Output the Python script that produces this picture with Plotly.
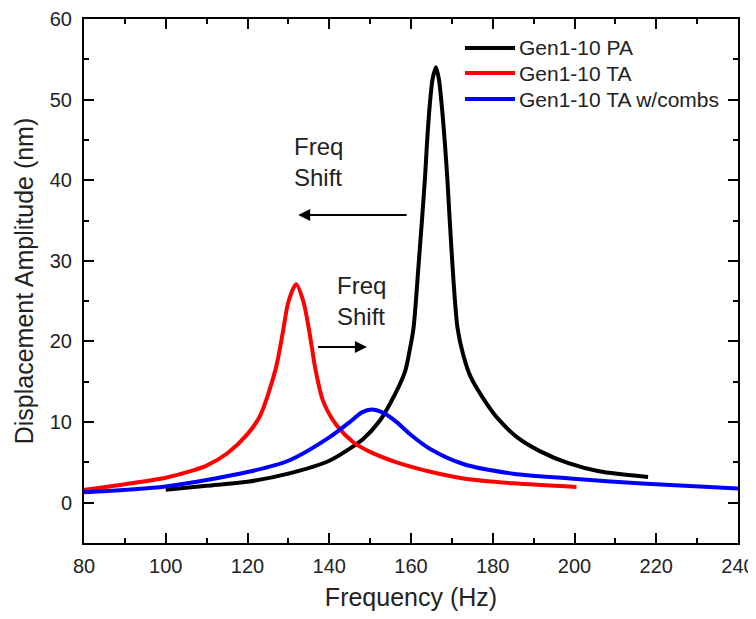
import plotly.graph_objects as go

# Frequency response data
pa_freq = [100, 110, 120, 130, 140, 145, 148.3, 152.4, 154.9, 158.5, 159.6, 160.6, 161.9, 163.4,
           163.9, 164.6, 165.3, 166.1, 166.8, 167.5, 168.3, 168.9, 170.1, 171.4, 172.8, 174.6,
           178.5, 181.5, 186, 191.5, 198.5, 206, 218]
pa_amp = [1.6, 2.1, 2.6, 3.6, 5.2, 6.7, 7.9, 10.2, 12.3, 16.2, 18.7, 21.6, 29.8, 40.1,
          44.5, 49.4, 52.6, 54.0, 52.6, 49.4, 44.5, 40.1, 29.8, 21.6, 18.3, 15.6,
          12.3, 10.3, 8.1, 6.4, 4.9, 3.9, 3.2]

ta_freq = [80, 90, 100, 106.7, 110, 115, 120, 123.1, 126.9, 128.6, 130, 131.9, 133.7, 135.3,
           136.6, 138.5, 141.8, 145.9, 150, 156.5, 165, 172.8, 185, 200.5]
ta_amp = [1.6, 2.3, 3.1, 4.0, 4.6, 6.1, 8.5, 10.8, 16.6, 21.0, 24.9, 27.1, 24.9, 20.7,
          16.6, 12.6, 9.6, 7.5, 6.3, 5.0, 3.8, 3.0, 2.4, 1.95]

comb_freq = [80, 100, 120, 130, 140, 145, 148, 150.4, 153, 156.5, 160, 164.6, 172.8,
             185, 198.9, 217.6, 240]
comb_amp = [1.3, 2.0, 3.8, 5.2, 8.1, 10.0, 11.2, 11.55, 11.2, 10.0, 8.4, 6.7, 4.8,
            3.6, 3.0, 2.35, 1.75]

series_names = ["Gen1-10 PA", "Gen1-10 TA", "Gen1-10 TA w/combs"]
series_colors = ["black", "#ff0000", "#0000ff"]

FONT = "Arial, Liberation Sans, sans-serif"

fig = go.Figure()
for xs, ys, name, color in zip([pa_freq, ta_freq, comb_freq], [pa_amp, ta_amp, comb_amp],
                               series_names, series_colors):
    fig.add_trace(go.Scatter(x=xs, y=ys, mode="lines", name=name, showlegend=False,
                             line=dict(color=color, width=4, shape="spline", smoothing=0.8)))

# legend drawn by hand so the swatches are long and rows tight like the original
legend_rows = [0.9447, 0.8969, 0.8473]
for name, color, ly in zip(series_names, series_colors, legend_rows):
    fig.add_shape(type="line", xref="paper", yref="paper", x0=0.5826, x1=0.659, y0=ly, y1=ly,
                  line=dict(color=color, width=4))
    fig.add_annotation(xref="paper", yref="paper", x=0.662, y=ly, text=name, showarrow=False,
                       xanchor="left", yanchor="middle", font=dict(size=21, color="#222"))

# Freq shift labels and arrows
fig.add_annotation(x=130.9, y=42.3, text="Freq<br>Shift", showarrow=False, xanchor="left",
                   align="left", font=dict(size=24, color="#222"))
fig.add_annotation(x=141.4, y=25.0, text="Freq<br>Shift", showarrow=False, xanchor="left",
                   align="left", font=dict(size=24, color="#222"))
fig.add_annotation(x=132.4, y=35.7, ax=159.3, ay=35.7, xref="x", yref="y", axref="x", ayref="y",
                   text="", showarrow=True, arrowhead=2, arrowsize=1.2, arrowwidth=2,
                   arrowcolor="black")
fig.add_annotation(x=149.2, y=19.3, ax=136.9, ay=19.3, xref="x", yref="y", axref="x", ayref="y",
                   text="", showarrow=True, arrowhead=2, arrowsize=1.2, arrowwidth=2,
                   arrowcolor="black")

axis_style = dict(showline=True, linecolor="black", linewidth=2, mirror="ticks",
                  ticks="inside", ticklen=10, tickwidth=2, tickcolor="black",
                  showgrid=False, zeroline=False, automargin=False,
                  ticklabeloverflow="allow",
                  tickfont=dict(size=20, color="#222"))

fig.update_xaxes(range=[80, 240], dtick=20, tick0=80, ticklabelstandoff=4,
                 minor=dict(dtick=10, ticks="inside", ticklen=5, tickwidth=2, tickcolor="black"),
                 title=dict(text="Frequency (Hz)", font=dict(size=25, color="#222"), standoff=24),
                 **axis_style)
fig.update_yaxes(range=[-5, 60], dtick=10, tick0=0, ticklabelstandoff=6,
                 minor=dict(dtick=5, ticks="inside", ticklen=5, tickwidth=2, tickcolor="black"),
                 title=dict(text="Displacement Amplitude (nm)", font=dict(size=25, color="#222"),
                            standoff=9),
                 **axis_style)

# page body has an 8px margin, so the figure is offset and sized to stay in the window
fig.update_layout(
    width=748, height=603,
    margin=dict(l=76, r=18, t=11, b=68),
    plot_bgcolor="white", paper_bgcolor="white",
    font=dict(family=FONT, color="#222"),
)

fig.write_html("out.html")
